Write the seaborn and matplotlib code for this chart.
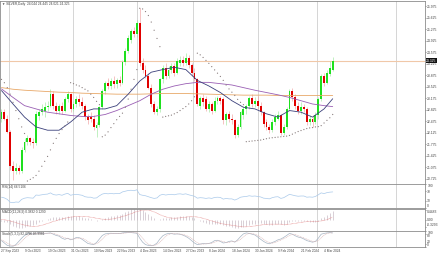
import matplotlib
matplotlib.use("Agg")
import matplotlib.pyplot as plt
import matplotlib.transforms as mtransforms
import seaborn as sns

sns.set_theme(style="white")
plt.rcParams['font.family'] = ['Liberation Sans', 'DejaVu Sans']

# ---------------- data ----------------
title_text = "\u25bc SILVER,Daily  24.044 24.445 24.021 24.325"
rsi_label = "RSI(14) 66.5106"
macd_label = "MACD(12,26,9) 0.3832 0.1290"
stoch_label = "Stoch(5,3,3) 82.4796 85.9981"
last_price = 24.325

opens = [22.55, 22.75, 22.55, 22.15, 21.10, 20.95, 21.05, 20.95, 21.60, 21.85,
         21.95, 21.85, 21.80, 22.62, 22.75, 22.80, 22.90, 22.95, 23.30, 22.95,
         22.80, 22.95, 22.80, 23.15, 23.30, 22.85, 23.00, 23.15, 23.05, 22.95,
         22.60, 22.60, 22.55, 22.28, 22.35, 22.90, 23.40, 23.65, 23.55, 23.70,
         23.60, 23.72, 23.65, 24.27, 24.63, 24.95, 25.24, 25.15, 25.46, 24.25,
         24.05, 23.85, 23.50, 23.00, 22.75, 22.85, 23.75, 24.10, 23.85, 24.05,
         24.15, 23.95, 24.25, 24.35, 24.25, 24.40, 24.20, 23.95, 23.75, 22.95,
         23.17, 23.15, 22.85, 23.00, 22.80, 23.10, 23.17, 23.15, 22.50, 22.70,
         22.55, 22.50, 22.04, 22.30, 22.65, 22.85, 22.95, 23.17, 23.00, 23.10,
         22.95, 22.75, 22.45, 22.30, 22.20, 22.45, 22.55, 22.65, 22.12, 22.30,
         22.85, 23.40, 23.20, 22.95, 22.80, 22.90, 22.85, 22.45, 22.55, 22.45,
         22.65, 23.15, 23.85, 23.65, 23.90, 24.044]
highs = [22.85, 22.85, 22.65, 22.20, 21.25, 21.20, 21.15, 21.70, 21.95, 22.05,
         22.00, 21.95, 22.80, 22.85, 23.00, 23.05, 23.10, 23.45, 23.40, 23.05,
         23.00, 23.05, 23.20, 23.40, 23.35, 23.10, 23.25, 23.30, 23.20, 23.00,
         22.70, 22.75, 22.65, 22.45, 22.95, 23.45, 23.70, 23.80, 23.80, 23.85,
         23.80, 23.85, 24.35, 24.70, 25.10, 25.30, 25.35, 25.55, 25.92, 24.40,
         24.20, 23.95, 23.60, 23.10, 22.95, 23.80, 24.20, 24.25, 24.15, 24.25,
         24.25, 24.40, 24.45, 24.45, 24.55, 24.50, 24.25, 24.10, 23.80, 23.25,
         23.30, 23.25, 23.10, 23.05, 23.20, 23.25, 23.25, 23.20, 22.75, 22.80,
         22.70, 22.55, 22.40, 22.80, 22.95, 23.00, 23.25, 23.30, 23.20, 23.25,
         23.05, 22.80, 22.55, 22.40, 22.55, 22.70, 22.80, 22.70, 22.40, 22.90,
         23.45, 23.50, 23.30, 23.05, 23.05, 23.00, 22.90, 22.65, 22.65, 22.75,
         23.20, 23.90, 23.95, 24.05, 24.30, 24.445]
lows = [22.45, 22.50, 22.10, 21.00, 20.68, 20.85, 20.85, 20.90, 21.55, 21.75,
        21.75, 21.65, 21.75, 22.50, 22.65, 22.60, 22.80, 22.90, 22.85, 22.70,
        22.70, 22.70, 22.75, 23.05, 22.75, 22.80, 22.90, 22.95, 22.85, 22.50,
        22.40, 22.45, 22.20, 22.00, 22.30, 22.85, 23.30, 23.45, 23.45, 23.50,
        23.50, 23.55, 23.60, 24.20, 24.55, 24.85, 25.05, 25.05, 24.15, 23.95,
        23.80, 23.45, 22.90, 22.70, 22.65, 22.75, 23.65, 23.75, 23.80, 23.95,
        23.85, 23.90, 24.15, 24.15, 24.20, 24.10, 23.85, 23.70, 22.95, 22.85,
        22.95, 22.80, 22.75, 22.70, 22.75, 23.00, 23.00, 22.40, 22.35, 22.45,
        22.40, 21.95, 21.98, 22.25, 22.55, 22.70, 22.85, 22.90, 22.90, 22.85,
        22.65, 22.30, 22.20, 22.10, 22.15, 22.35, 22.50, 22.05, 22.05, 22.25,
        22.80, 23.10, 22.85, 22.70, 22.70, 22.75, 22.35, 22.35, 22.30, 22.40,
        22.55, 23.10, 23.55, 23.60, 23.85, 24.021]
closes = [22.75, 22.55, 22.15, 21.10, 20.95, 21.05, 20.95, 21.60, 21.85, 21.95,
          21.85, 21.80, 22.70, 22.75, 22.85, 22.90, 22.95, 23.32, 22.95, 22.80,
          22.95, 22.80, 23.15, 23.32, 22.85, 23.00, 23.15, 23.05, 22.95, 22.60,
          22.50, 22.55, 22.30, 22.35, 22.90, 23.40, 23.65, 23.55, 23.70, 23.60,
          23.72, 23.65, 24.27, 24.63, 25.00, 25.24, 25.15, 25.46, 24.25, 24.05,
          23.85, 23.50, 23.00, 22.75, 22.85, 23.75, 24.10, 23.85, 24.05, 24.15,
          23.95, 24.30, 24.35, 24.25, 24.40, 24.20, 23.95, 23.75, 23.00, 23.17,
          23.05, 22.85, 23.00, 22.80, 23.10, 23.17, 23.10, 22.50, 22.70, 22.55,
          22.50, 22.04, 22.30, 22.75, 22.85, 22.95, 23.17, 23.00, 23.10, 22.95,
          22.75, 22.40, 22.30, 22.20, 22.45, 22.60, 22.65, 22.12, 22.30, 22.85,
          23.40, 23.20, 22.95, 22.80, 22.90, 22.85, 22.45, 22.55, 22.45, 22.65,
          23.15, 23.85, 23.65, 23.95, 24.10, 24.325]

sar = [23.75, 23.65, 23.50, 23.30, 23.05, 22.80, 22.55, 22.30, 22.10, 20.65,
       20.70, 20.75, 20.82, 20.95, 21.10, 21.25, 21.40, 21.60, 21.80, 21.95,
       22.10, 22.22, 22.33, 22.45, 23.65, 23.62, 23.58, 23.55, 23.50, 23.45,
       23.40, 23.30, 23.20, 23.08, 22.98, 22.00, 22.05, 22.15, 22.28, 22.40,
       22.52, 22.62, 22.72, 22.90, 23.15, 23.45, 23.75, 24.05, 25.92, 25.90,
       25.82, 25.70, 25.50, 25.25, 25.00, 24.75, 22.60, 22.62, 22.64, 22.66,
       22.70, 22.74, 22.80, 22.86, 22.92, 23.00, 23.10, 23.22, 24.55, 24.50,
       24.42, 24.33, 24.24, 24.14, 24.04, 23.94, 23.84, 23.72, 23.58, 23.46,
       23.36, 23.26, 23.14, 23.05, 22.98, 21.85, 21.86, 21.87, 21.88, 21.89,
       21.90, 21.92, 21.94, 21.96, 21.97, 21.98, 21.99, 22.00, 22.01, 22.02,
       22.04, 22.08, 22.12, 22.16, 22.19, 22.22, 22.25, 22.27, 22.28, 22.30,
       22.31, 22.34, 22.42, 22.50, 22.58, 22.68]

ma_idx = [0, 4, 8, 12, 16, 20, 24, 28, 32, 36, 40, 44, 48, 52, 56, 60, 64,
          68, 72, 76, 80, 84, 88, 92, 96, 100, 104, 108, 112, 115]
ma_fast = [23.41, 23.00, 22.60, 22.30, 22.20, 22.20, 22.45, 22.75, 22.85, 22.85,
           22.95, 23.30, 23.70, 23.97, 24.05, 24.12, 24.05, 23.72, 23.55, 23.35,
           23.10, 22.90, 22.85, 22.70, 22.60, 22.80, 22.75, 22.60, 22.85, 23.16]
ma_mid = [23.46, 23.20, 22.95, 22.85, 22.75, 22.70, 22.65, 22.62, 22.62, 22.68,
          22.80, 22.95, 23.10, 23.30, 23.45, 23.55, 23.62, 23.66, 23.66, 23.62,
          23.58, 23.50, 23.42, 23.35, 23.28, 23.20, 23.10, 23.00, 22.95, 22.92]
ma_slow = [23.50, 23.45, 23.42, 23.40, 23.38, 23.36, 23.35, 23.33, 23.32, 23.31,
           23.30, 23.30, 23.30, 23.31, 23.32, 23.32, 23.32, 23.31, 23.30, 23.29,
           23.28, 23.27, 23.27, 23.27, 23.26, 23.26, 23.26, 23.26, 23.26, 23.26]

rsi = [45, 42, 36, 24, 22, 25, 24, 36, 41, 43, 42, 41, 54, 53, 55, 57, 58, 63, 56, 54,
       56, 53, 58, 61, 53, 56, 57, 55, 53, 47, 45, 45, 41, 42, 51, 58, 61, 59, 61, 59,
       61, 60, 67, 70, 73, 74, 72, 76, 56, 53, 51, 47, 43, 40, 42, 53, 57, 54, 56, 57,
       55, 58, 59, 57, 59, 55, 52, 49, 41, 43, 42, 40, 42, 40, 44, 45, 44, 37, 40, 38,
       38, 33, 38, 45, 47, 48, 51, 49, 50, 48, 46, 41, 40, 38, 43, 46, 47, 40, 43, 50,
       57, 54, 51, 49, 50, 50, 45, 46, 45, 48, 55, 63, 60, 64, 66, 67]

macd_main = [-0.05, -0.08, -0.12, -0.20, -0.28, -0.33, -0.37, -0.36, -0.33, -0.30,
             -0.28, -0.26, -0.18, -0.12, -0.06, -0.01, 0.03, 0.09, 0.11, 0.12,
             0.13, 0.13, 0.15, 0.18, 0.17, 0.17, 0.17, 0.16, 0.14, 0.10,
             0.06, 0.03, -0.02, -0.05, -0.03, 0.02, 0.08, 0.12, 0.16, 0.18,
             0.20, 0.21, 0.27, 0.34, 0.42, 0.48, 0.51, 0.52, 0.50, 0.43,
             0.36, 0.27, 0.17, 0.07, 0.00, 0.02, 0.06, 0.07, 0.09, 0.11,
             0.11, 0.14, 0.16, 0.16, 0.18, 0.17, 0.14, 0.10, 0.00, -0.06,
             -0.10, -0.15, -0.17, -0.21, -0.21, -0.20, -0.20, -0.26, -0.28, -0.30,
             -0.32, -0.38, -0.38, -0.35, -0.32, -0.28, -0.23, -0.20, -0.17, -0.16,
             -0.16, -0.19, -0.21, -0.23, -0.22, -0.20, -0.18, -0.21, -0.22, -0.18,
             -0.10, -0.06, -0.05, -0.05, -0.04, -0.04, -0.07, -0.08, -0.10, -0.10,
             -0.05, 0.06, 0.13, 0.21, 0.29, 0.38]
macd_signal = [0.02, 0.00, -0.02, -0.05, -0.09, -0.13, -0.17, -0.21, -0.24, -0.27,
               -0.29, -0.31, -0.30, -0.28, -0.25, -0.21, -0.17, -0.12, -0.08, -0.04,
               0.00, 0.04, 0.07, 0.10, 0.12, 0.14, 0.15, 0.15, 0.15, 0.15,
               0.14, 0.12, 0.10, 0.07, 0.05, 0.03, 0.02, 0.02, 0.03, 0.05,
               0.08, 0.11, 0.15, 0.19, 0.23, 0.28, 0.33, 0.38, 0.41, 0.44,
               0.45, 0.44, 0.41, 0.36, 0.30, 0.24, 0.18, 0.14, 0.10, 0.08,
               0.07, 0.08, 0.09, 0.11, 0.12, 0.14, 0.14, 0.14, 0.13, 0.10,
               0.07, 0.03, -0.01, -0.05, -0.09, -0.13, -0.16, -0.19, -0.21, -0.23,
               -0.25, -0.27, -0.29, -0.31, -0.32, -0.32, -0.31, -0.30, -0.28, -0.26,
               -0.24, -0.22, -0.21, -0.20, -0.20, -0.20, -0.20, -0.20, -0.21, -0.21,
               -0.20, -0.18, -0.16, -0.14, -0.12, -0.10, -0.08, -0.07, -0.07, -0.07,
               -0.07, -0.05, -0.03, 0.01, 0.06, 0.13]

stoch_main = [40, 25, 10, 6, 5, 15, 35, 55, 72, 82, 85, 80, 86, 88, 86, 85, 86, 88, 80, 72,
              68, 55, 48, 55, 45, 50, 60, 58, 48, 35, 22, 18, 15, 28, 50, 72, 82, 84, 86, 84,
              85, 84, 88, 90, 92, 90, 88, 86, 55, 30, 15, 10, 8, 12, 25, 50, 70, 80, 85, 84,
              80, 82, 80, 74, 66, 55, 40, 25, 15, 18, 22, 20, 22, 28, 40, 42, 35, 25, 28, 35,
              38, 30, 45, 65, 82, 88, 85, 80, 75, 62, 48, 35, 25, 20, 28, 35, 45, 50, 60, 72,
              85, 80, 70, 62, 58, 50, 40, 35, 30, 35, 55, 80, 85, 88, 90, 88]
stoch_signal = [45, 35, 25, 14, 7, 9, 18, 35, 54, 70, 80, 82, 84, 85, 87, 86, 86, 86, 85, 80,
                73, 65, 57, 53, 49, 50, 52, 56, 55, 47, 35, 25, 18, 20, 31, 50, 68, 79, 84, 85,
                85, 84, 86, 87, 90, 91, 90, 88, 76, 57, 33, 18, 11, 10, 15, 29, 48, 67, 78, 83,
                83, 82, 81, 79, 73, 65, 54, 40, 27, 19, 18, 20, 21, 23, 30, 37, 39, 34, 29, 29,
                34, 34, 38, 47, 64, 78, 85, 84, 80, 72, 62, 48, 36, 27, 24, 28, 36, 43, 52, 61,
                72, 79, 78, 71, 63, 57, 49, 42, 35, 33, 40, 57, 73, 84, 88, 88]

date_pos = [0, 8, 16, 24, 32, 40, 48, 56, 64, 72, 80, 88, 96, 104, 112]
date_labels = ["27 Sep 2023", "9 Oct 2023", "19 Oct 2023", "31 Oct 2023",
               "10 Nov 2023", "22 Nov 2023", "4 Dec 2023", "14 Dec 2023",
               "27 Dec 2023", "8 Jan 2024", "18 Jan 2024", "30 Jan 2024",
               "9 Feb 2024", "21 Feb 2024", "4 Mar 2024"]
month_lines = [2.6, 24.8, 47.0, 66.5, 89.0, 109.6, 137.0]
price_ticks = [25.975, 25.625, 25.275, 24.925, 24.575, 24.225, 23.875, 23.525,
               23.175, 22.825, 22.475, 22.125, 21.775, 21.425, 21.075, 20.725]
rsi_ticks = [100, 70, 30, 0]
macd_ticks = [0.4483, 0.0, -0.3293]
macd_tick_labels = ["0.4483", "0.00", "-0.3293"]
stoch_ticks = [100, 80, 20, 0]

# ---------------- layout ----------------
W, H = 440, 254
fig = plt.figure(figsize=(4.4, 2.54), dpi=100)
fig.patch.set_facecolor("white")

def box(y0, y1, x1=425):
    return [0.0, (H - y1) / H, x1 / W, (y1 - y0) / H]

ax_p = fig.add_axes(box(0.5, 183.5))
ax_r = fig.add_axes(box(184, 208))
ax_m = fig.add_axes(box(208.5, 230.5))
ax_s = fig.add_axes(box(231, 247))
axes = [ax_p, ax_r, ax_m, ax_s]

xlim = (-0.52, 147.05)
n = len(closes)
idx = list(range(n))
FS = 2.4
FS_T = 2.3
TXT = "#444444"

for ax in axes:
    ax.set_facecolor("white")
    ax.set_xlim(*xlim)
    for s in ax.spines.values():
        s.set_color("#8c8c8c")
        s.set_linewidth(0.6)
    for xv in month_lines:
        ax.axvline(xv, color="#cfcfcf", lw=0.6, zorder=0)
    ax.yaxis.tick_right()
    ax.tick_params(axis="y", labelsize=FS, colors=TXT, length=1.0, width=0.4, pad=0.6)
    ax.tick_params(axis="x", length=0, labelbottom=False)

# ---------------- price panel ----------------
ax_p.set_ylim(20.574, 26.158)
ax_p.axhline(last_price, color="#f0c8a8", lw=0.8, zorder=1)

up_col, dn_col = "#1ee01e", "#e00000"
for i in idx:
    o, c = opens[i], closes[i]
    col = up_col if c >= o else dn_col
    wick = "#9fe89f" if c >= o else "#f0a0a0"
    ax_p.vlines(i, lows[i], highs[i], color=wick, lw=0.45, zorder=2)
    ax_p.bar(i, max(abs(c - o), 0.02), bottom=min(o, c), width=0.66,
             color=col, edgecolor="none", zorder=3)

sns.lineplot(x=ma_idx, y=ma_slow, ax=ax_p, color="#e8a868", lw=0.6, zorder=4)
sns.lineplot(x=ma_idx, y=ma_mid, ax=ax_p, color="#9a5fb4", lw=0.6, zorder=4)
sns.lineplot(x=ma_idx, y=ma_fast, ax=ax_p, color="#3a3f7a", lw=0.6, zorder=4)
sns.scatterplot(x=idx, y=sar, ax=ax_p, s=0.8, color="#8a7f7f",
                edgecolor="none", zorder=5, legend=False)

ax_p.set_yticks(price_ticks)
ax_p.set_yticklabels([f"{v:.3f}" for v in price_ticks])
ax_p.text(0.004, 0.993, title_text, transform=ax_p.transAxes, fontsize=FS_T,
          color=TXT, ha="left", va="top")
trans = mtransforms.blended_transform_factory(ax_p.transAxes, ax_p.transData)
ax_p.text(1.003, last_price, f"{last_price:.3f}", transform=trans, fontsize=FS,
          color="white", ha="left", va="center", zorder=10,
          bbox=dict(boxstyle="square,pad=0.2", fc="#111111", ec="none"))

# ---------------- RSI panel ----------------
sns.lineplot(x=idx, y=rsi, ax=ax_r, color="#a9c9ea", lw=0.5)
ax_r.set_ylim(0, 100)
ax_r.set_yticks(rsi_ticks)
ax_r.set_yticklabels([str(v) for v in rsi_ticks])
ax_r.get_yticklabels()[-1].set_va("bottom")
ax_r.get_yticklabels()[0].set_va("top")
ax_r.text(0.004, 0.94, rsi_label, transform=ax_r.transAxes, fontsize=FS_T,
          color=TXT, ha="left", va="top")

# ---------------- MACD panel ----------------
ax_m.vlines(idx, 0, macd_main, color="#c9bcc6", lw=0.5)
sns.lineplot(x=idx, y=macd_signal, ax=ax_m, color="#e07070", lw=0.45,
             linestyle=(0, (1, 1)))
ax_m.set_ylim(-0.489, 0.517)
ax_m.set_yticks(macd_ticks)
ax_m.set_yticklabels(macd_tick_labels)
ax_m.get_yticklabels()[0].set_va("top")
ax_m.get_yticklabels()[-1].set_va("bottom")
ax_m.text(0.004, 0.94, macd_label, transform=ax_m.transAxes, fontsize=FS_T,
          color=TXT, ha="left", va="top")

# ---------------- Stochastic panel ----------------
sns.lineplot(x=idx, y=stoch_main, ax=ax_s, color="#a7b5c4", lw=0.5)
sns.lineplot(x=idx, y=stoch_signal, ax=ax_s, color="#d9b3b3", lw=0.4,
             linestyle=(0, (2, 1)))
ax_s.set_ylim(0, 100)
ax_s.set_yticks(stoch_ticks)
ax_s.set_yticklabels([str(v) for v in stoch_ticks])
s_labels = ax_s.get_yticklabels()
s_labels[0].set_va("top")
s_labels[1].set_va("top")
s_labels[2].set_va("bottom")
s_labels[3].set_va("bottom")
ax_s.text(0.004, 0.94, stoch_label, transform=ax_s.transAxes, fontsize=FS_T,
          color=TXT, ha="left", va="top")
ax_s.set_xticks(date_pos)
ax_s.set_xticklabels(date_labels, ha="left")
ax_s.tick_params(axis="x", labelbottom=True, labelsize=FS_T, colors=TXT, pad=1.2, length=0)

for ax in axes:
    ax.set_xlabel("")
    ax.set_ylabel("")
    ax.set_xlim(*xlim)

fig.savefig("out.png", dpi=100, facecolor="white")
